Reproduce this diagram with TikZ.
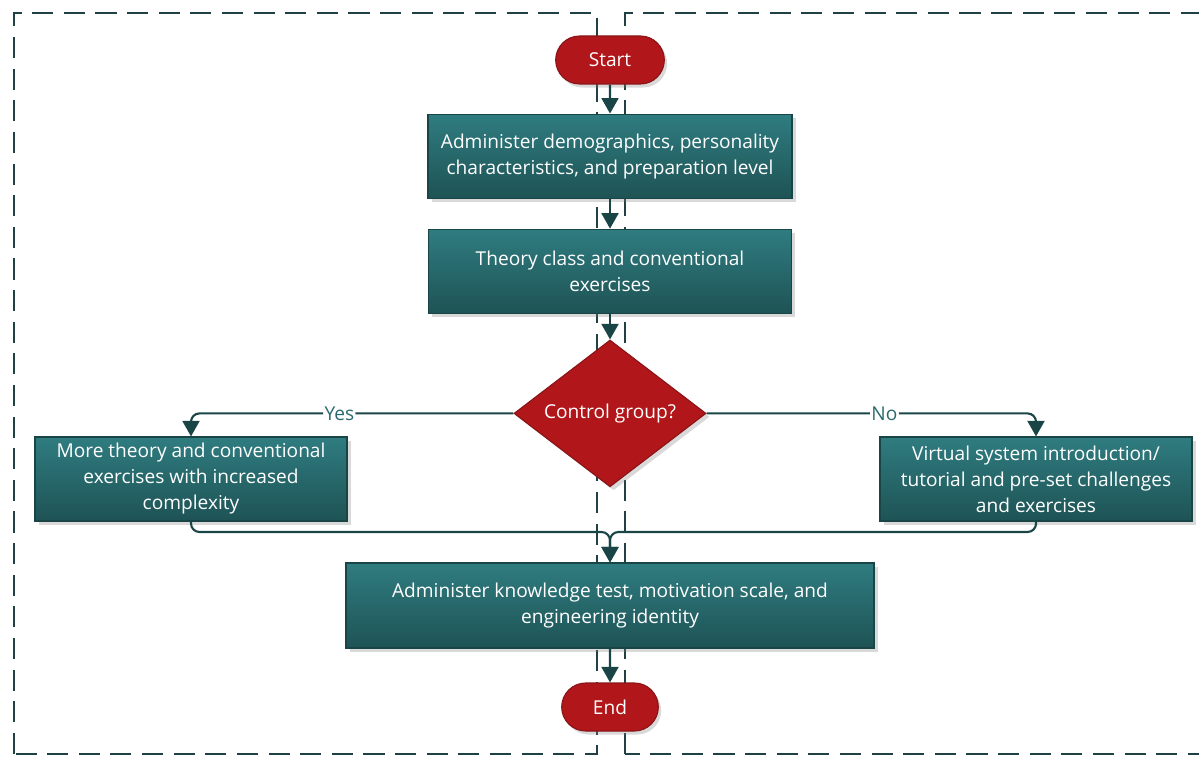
\documentclass[tikz,border=0pt]{standalone}
\usepackage{fontspec}
\setmainfont{Open Sans}
\usetikzlibrary{shapes.geometric, shapes.misc, arrows.meta, positioning, calc, shadows}
\definecolor{tealtop}{HTML}{2F7C80}
\definecolor{tealbot}{HTML}{1E5355}
\definecolor{tealline}{HTML}{1A4547}
\definecolor{redfill}{HTML}{B1171A}
\definecolor{redline}{HTML}{8A1416}
\definecolor{framecol}{HTML}{1F4045}
\definecolor{labelcol}{HTML}{2D6A6D}
\tikzset{
  terminal/.style = {rounded rectangle, draw=redline, fill=redfill, thick, text=white, minimum height=1.2cm,
    font=\fontsize{13.6}{18.5}\selectfont, drop shadow={opacity=0.3, shadow xshift=2pt, shadow yshift=-2.5pt}},
  process/.style = {rectangle, draw=tealline, top color=tealtop, bottom color=tealbot, thick, text=white, align=center,
    minimum height=2.1cm, font=\fontsize{13.6}{18.5}\selectfont, drop shadow={opacity=0.3, shadow xshift=2.5pt, shadow yshift=-2.5pt}},
  decision/.style = {diamond, draw=redline, fill=redfill, thick, text=white, aspect=1.3, inner sep=0pt,
    minimum width=4.8cm, minimum height=3.67cm, font=\fontsize{13.6}{18.5}\selectfont,
    drop shadow={opacity=0.3, shadow xshift=2.5pt, shadow yshift=-2.5pt}},
  frame/.style = {draw=framecol, line width=1.2pt, dash pattern=on 15pt off 7.5pt},
  arrow/.style = {draw=tealline, line width=1.5pt, -{Triangle[length=11pt, width=12pt]}},
  branch/.style = {fill=white, text=labelcol, inner sep=1pt, font=\fontsize{13.6}{16}\selectfont}
}

\begin{document}
\begin{tikzpicture}

    \useasboundingbox (0,0) rectangle (29.975,18.925);

    % Two dashed panels
    \draw[frame] (0.35,0.075) rectangle (14.925,18.6);
    \draw[frame] (15.625,0.075) rectangle (30.1,18.6);

    % Main column
    \node[terminal, minimum width=2.95cm] (start) at (15.25,17.425) {Start};
    \node[process, minimum width=9.1cm, below=0.725cm of start] (demog)
      {Administer demographics, personality\\characteristics, and preparation level};
    \node[process, minimum width=9.075cm, below=0.75cm of demog] (theory)
      {Theory class and conventional\\exercises};
    \node[decision] (ctrl) at (15.25,8.59) {Control group?};

    % Two branches
    \node[process, minimum width=7.8cm] (moretheory) at (4.775,6.95)
      {More theory and conventional\\exercises with increased\\complexity};
    \node[process, minimum width=7.8cm] (virtual) at (25.9,6.95)
      {Virtual system introduction/\\tutorial and pre-set challenges\\and exercises};

    % Joining the branches
    \coordinate (merge) at (15.25,5.625);
    \node[process, minimum width=13.2cm, minimum height=2.125cm] (knowledge) at (15.25,3.7875)
      {Administer knowledge test, motivation scale, and\\engineering identity};
    \node[terminal, minimum width=2.65cm] (finish) at (15.25,1.25) {End};

    % Arrows down the column
    \draw[arrow] (start) -- (demog);
    \draw[arrow] (demog) -- (theory);
    \draw[arrow] (theory) -- (ctrl);

    % Arrows to the branches
    \draw[arrow, rounded corners=6pt] (ctrl.west) -| node[branch, pos=0.27] {Yes} (moretheory.north);
    \draw[arrow, rounded corners=6pt] (ctrl.east) -| node[branch, pos=0.27] {No} (virtual.north);

    % Arrows back to the column
    \draw[arrow, rounded corners=6pt] (moretheory.south) |- (merge) -- (knowledge.north);
    \draw[arrow, rounded corners=6pt] (virtual.south) |- (merge) -- (knowledge.north);
    \draw[arrow] (knowledge) -- (finish);

\end{tikzpicture}
\end{document}
